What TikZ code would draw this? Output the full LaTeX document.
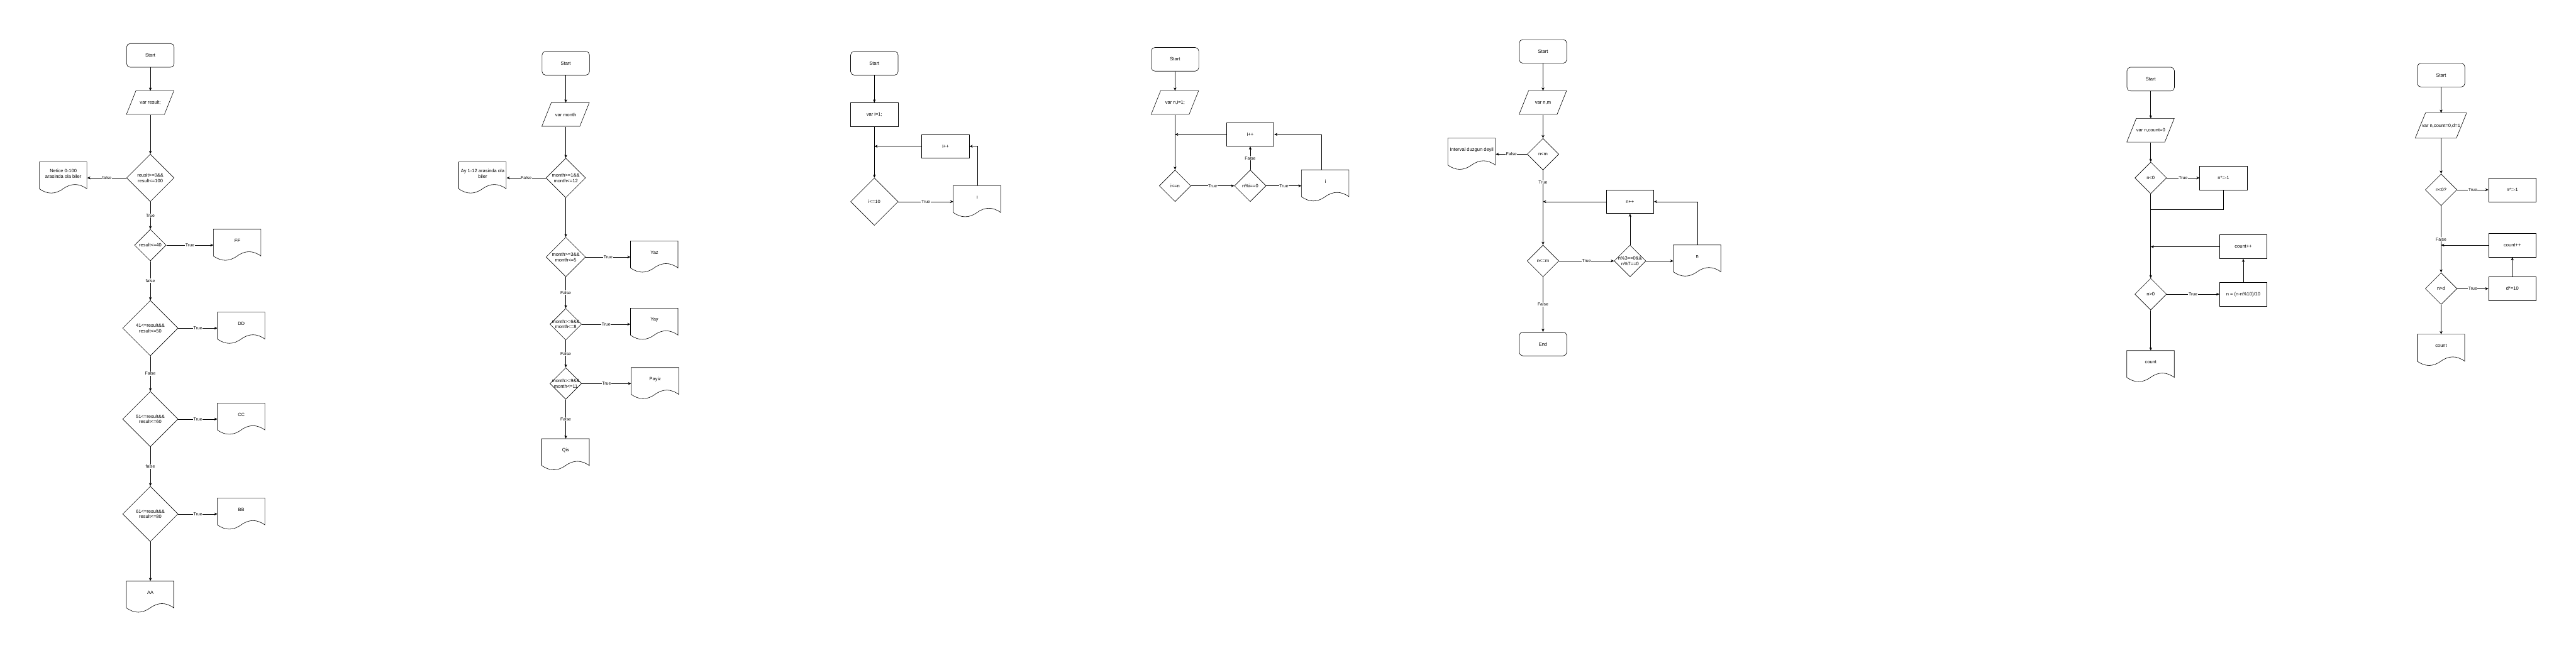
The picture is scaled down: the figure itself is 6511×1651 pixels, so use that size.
\documentclass[tikz,border=0pt]{standalone}
\usepackage{fontspec}
\setmainfont{Liberation Sans}
\usetikzlibrary{shapes.geometric,arrows.meta}
\def\docpiece{(0,0) -- (120,0) -- (120,68) .. controls (100,53.6) and (80,53.6) .. (60,68) .. controls (40,82.4) and (20,82.4) .. (0,68) -- cycle}
\def\iopiece{(0,60) -- (96,60) -- (120,0) -- (24,0) -- cycle}
\def\iowide{(0,64) -- (104,64) -- (130,0) -- (26,0) -- cycle}
\def\flow{\draw[-{Stealth[length=8pt,width=7pt]}]}
\tikzset{
  txt/.style={font=\fontsize{12}{14}\selectfont,align=center,inner sep=0pt},
  lab/.style={font=\fontsize{11}{13}\selectfont,fill=white,inner sep=1pt},
  term/.style={draw,txt,rounded corners=9pt,minimum width=120pt,minimum height=60pt},
  proc/.style={draw,txt,minimum width=120pt,minimum height=60pt},
  io/.style={txt,minimum width=120pt,minimum height=60pt},
  docu/.style={minimum width=120pt,minimum height=80pt,inner sep=0pt},
  dec/.style={draw,diamond,aspect=1,inner sep=0pt,minimum width=#1,minimum height=#1},
  dec/.default=80pt,
  say/.style={label={[txt,yshift=11pt]center:{#1}}},
  ask/.style={label={[txt]center:{#1}}}
}

\begin{document}
\begin{tikzpicture}[x=1pt,y=-1pt,line width=1pt]
\useasboundingbox (0,0) rectangle (6511,1651);

\node[term] (st1) at (380,140) {Start};
\node[io] (in1) at (380,260) {var result;};
\node[dec=120pt,ask={reuslt>=0\&\&\\result<=100}] (c1) at (380,450) {};
\node[docu,say={Netice 0-100\\arasinda ola biler}] (o1) at (160,450) {};
\node[dec,ask={result<=40}] (c2) at (380,620) {};
\node[docu,say=FF] (o2) at (600,620) {};
\node[dec=140pt,ask={41<=result\&\&\\result<=50}] (c3) at (380,830) {};
\node[docu,say=DD] (o3) at (610,830) {};
\node[dec=140pt,ask={51<=result\&\&\\result<=60}] (c4) at (380,1060) {};
\node[docu,say=CC] (o4) at (610,1060) {};
\node[dec=140pt,ask={61<=result\&\&\\result<=80}] (c5) at (380,1300) {};
\node[docu,say=BB] (o5) at (610,1300) {};
\node[docu,say=AA] (o6) at (380,1510) {};
\flow (st1) -- (in1);
\flow (in1) -- (c1);
\flow (c1) -- node[lab] (e1) {false} (o1);
\flow (c1) -- node[lab] (e2) {True} (c2);
\flow (c2) -- node[lab] (e3) {True} (o2);
\flow (c2) -- node[lab] (e4) {false} (c3);
\flow (c3) -- node[lab] (e5) {True} (o3);
\flow (c3) -- node[lab] (e6) {False} (c4);
\flow (c4) -- node[lab] (e7) {True} (o4);
\flow (c4) -- node[lab] (e8) {false} (c5);
\flow (c5) -- node[lab] (e9) {True} (o5);
\flow (c5) -- (o6);

\node[term] (st2) at (1430,160) {Start};
\node[io] (in2) at (1430,290) {var month};
\node[dec=100pt,ask={month>=1\&\&\\month<=12}] (m1) at (1430,450) {};
\node[docu,say={Ay 1-12 arasinda ola\\biler}] (ay) at (1220,450) {};
\node[dec=100pt,ask={month>=3\&\&\\month<=5}] (m2) at (1430,650) {};
\node[docu,say=Yaz] (yaz) at (1654,650) {};
\node[dec,ask={month>=6\&\&\\month<=8}] (m3) at (1430,820) {};
\node[docu,say=Yay] (yay) at (1654,820) {};
\node[dec,ask={month>=9\&\&\\month<=11}] (m4) at (1430,970) {};
\node[docu,say=Payiz] (payiz) at (1656,970) {};
\node[docu,say=Qis] (qis) at (1430,1150) {};
\flow (st2) -- (in2);
\flow (in2) -- (m1);
\flow (m1) -- node[lab] (f1) {False} (ay);
\flow (m1) -- (m2);
\flow (m2) -- node[lab] (f2) {True} (yaz);
\flow (m2) -- node[lab] (f3) {False} (m3);
\flow (m3) -- node[lab] (f4) {True} (yay);
\flow (m3) -- node[lab] (f5) {False} (m4);
\flow (m4) -- node[lab] (f6) {True} (payiz);
\flow (m4) -- node[lab] (f7) {False} (qis);

\node[term] (st3) at (2210,160) {Start};
\node[proc] (in3) at (2210,290) {var i=1;};
\node[proc] (inc3) at (2390,370) {i++};
\node[dec=120pt,ask={i<=10}] (c31) at (2210,510) {};
\node[docu,say=i] (o31) at (2470,510) {};
\coordinate (j3) at (2210,370);
\flow (st3) -- (in3);
\flow (in3) -- (c31);
\flow (c31) -- node[lab] (g1) {True} (o31);
\flow (o31.north) |- (inc3.east);
\flow (inc3.west) -- (j3);

\node[term] (st4) at (2970,150) {Start};
\node[io] (in4) at (2970,260) {var n,i=1;};
\node[proc] (inc4) at (3160,340) {i++};
\node[dec,ask={i<=n}] (c41) at (2970,470) {};
\node[dec,ask={n\%i==0}] (c42) at (3160,470) {};
\node[docu,say=i] (o41) at (3350,470) {};
\coordinate (j4) at (2970,340);
\flow (st4) -- (in4);
\flow (in4) -- (c41);
\flow (c41) -- node[lab] (h1) {True} (c42);
\flow (c42) -- node[lab] (h2) {True} (o41);
\flow (c42) -- node[lab] (h3) {False} (inc4);
\flow ([xshift=-10pt]o41.north) |- (inc4.east);
\flow (inc4.west) -- (j4);

\node[term] (st5) at (3900,130) {Start};
\node[io] (in5) at (3900,260) {var n,m};
\node[dec,ask={n<m}] (c51) at (3900,390) {};
\node[docu,say={Interval duzgun deyil}] (o51) at (3720,390) {};
\node[proc] (inc5) at (4120,510) {n++};
\coordinate (j5) at (3900,510);
\node[dec,ask={n<=m}] (c52) at (3900,660) {};
\node[dec,ask={n\%3==0\&\&\\n\%7==0}] (c53) at (4120,660) {};
\node[docu,say=n] (o52) at (4290,660) {};
\node[term] (en5) at (3900,870) {End};
\flow (st5) -- (in5);
\flow (in5) -- (c51);
\flow (c51) -- node[lab] (k1) {False} (o51);
\flow (c51) -- node[lab,pos=0.16] (k2) {True} (c52);
\flow (c52) -- node[lab] (k3) {True} (c53);
\flow (c53) -- (o52);
\flow (c53) -- (inc5);
\flow (o52.north) |- (inc5.east);
\flow (inc5.west) -- (j5);
\flow (c52) -- node[lab] (k4) {False} (en5);

\node[term] (st6) at (5436,200) {Start};
\node[io] (in6) at (5436,330) {var n,count=0};
\node[dec,ask={n<0}] (c61) at (5436,450) {};
\node[proc] (ng6) at (5620,450) {n*=-1};
\coordinate (j6) at (5436,530);
\node[proc] (cn6) at (5670,624) {count++};
\coordinate (q6) at (5436,624);
\node[dec,ask={n>0}] (c62) at (5436,744) {};
\node[proc] (dv6) at (5670,744) {n = (n-n\%10)/10};
\node[docu,say=count] (o61) at (5436,927) {};
\flow (st6) -- (in6);
\flow (in6) -- (c61);
\flow (c61) -- node[lab] (p1) {True} (ng6);
\draw (ng6.south) |- (j6);
\flow (c61) -- (c62);
\flow (cn6.west) -- (q6);
\flow (c62) -- node[lab] (p2) {True} (dv6);
\flow (dv6) -- (cn6);
\flow (c62) -- (o61);

\node[term] (st7) at (6170,190) {Start};
\node[io,minimum width=130pt,minimum height=64pt] (in7) at (6170,318) {var n,count=0,d=1};
\node[dec,ask={n<0?}] (c71) at (6170,480) {};
\node[proc] (ng7) at (6350,480) {n*=-1};
\node[proc] (cn7) at (6350,620) {count++};
\coordinate (q7) at (6170,620);
\node[dec,ask={n>d}] (c72) at (6170,730) {};
\node[proc] (d7) at (6350,730) {d*=10};
\node[docu,say=count] (o71) at (6170,886) {};
\flow (st7) -- (in7);
\flow (in7) -- (c71);
\flow (c71) -- node[lab] (r1) {True} (ng7);
\flow (c71) -- node[lab] (r2) {False} (c72);
\flow (cn7.west) -- (q7);
\flow (c72) -- node[lab] (r3) {True} (d7);
\flow (d7) -- (cn7);
\flow (c72) -- (o71);

\foreach \d in {o1,o2,o3,o4,o5,o6,ay,yaz,yay,payiz,qis,o31,o41,o51,o52,o61,o71}
  \draw[shift={(\d.north west)}] \docpiece;
\foreach \d in {in1,in2,in4,in5,in6}
  \draw[shift={(\d.north west)}] \iopiece;
\draw[shift={(in7.north west)}] \iowide;
\end{tikzpicture}
\end{document}
